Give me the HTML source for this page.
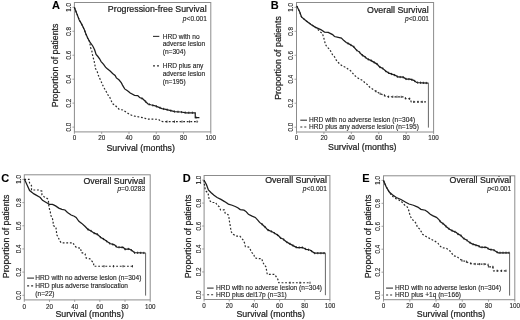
<!DOCTYPE html>
<html><head><meta charset="utf-8"><style>
html,body{margin:0;padding:0;background:#fff;width:520px;height:320px;overflow:hidden}
svg{display:block}
text{font-family:"Liberation Sans", sans-serif;fill:#1a1a1a}
.tk{font-size:6.3px;fill:#222;stroke:#222;stroke-width:0.1px}
.ax{font-size:8.8px;stroke:#222;stroke-width:0.22px}
.sm{font-size:6.6px;fill:#222;stroke:#222;stroke-width:0.12px}
.lt{font-size:11px;font-weight:bold;fill:#000;stroke:#000;stroke-width:0.1px}
</style></head><body>
<svg width="520" height="320" viewBox="0 0 520 320">
<defs><filter id="bl" x="0" y="0" width="520" height="320" filterUnits="userSpaceOnUse"><feGaussianBlur stdDeviation="0.5"/></filter></defs>
<rect width="520" height="320" fill="#fff"/>
<g filter="url(#bl)">
<g><rect x="74.4" y="2.5" width="136.4" height="129.4" fill="none" stroke="#8c8c8c" stroke-width="1"/>
<line x1="74.4" y1="131.9" x2="74.4" y2="133.9" stroke="#8c8c8c" stroke-width="0.8"/>
<text x="74.4" y="139.8" class="tk" text-anchor="middle">0</text>
<line x1="101.68" y1="131.9" x2="101.68" y2="133.9" stroke="#8c8c8c" stroke-width="0.8"/>
<text x="101.68" y="139.8" class="tk" text-anchor="middle">20</text>
<line x1="128.96" y1="131.9" x2="128.96" y2="133.9" stroke="#8c8c8c" stroke-width="0.8"/>
<text x="128.96" y="139.8" class="tk" text-anchor="middle">40</text>
<line x1="156.24" y1="131.9" x2="156.24" y2="133.9" stroke="#8c8c8c" stroke-width="0.8"/>
<text x="156.24" y="139.8" class="tk" text-anchor="middle">60</text>
<line x1="183.52" y1="131.9" x2="183.52" y2="133.9" stroke="#8c8c8c" stroke-width="0.8"/>
<text x="183.52" y="139.8" class="tk" text-anchor="middle">80</text>
<line x1="210.8" y1="131.9" x2="210.8" y2="133.9" stroke="#8c8c8c" stroke-width="0.8"/>
<text x="210.8" y="139.8" class="tk" text-anchor="middle">100</text>
<line x1="72.4" y1="127.11" x2="74.4" y2="127.11" stroke="#8c8c8c" stroke-width="0.8"/>
<text transform="translate(70.8,127.11) rotate(-90)" class="tk" text-anchor="middle">0.0</text>
<line x1="72.4" y1="103.14" x2="74.4" y2="103.14" stroke="#8c8c8c" stroke-width="0.8"/>
<text transform="translate(70.8,103.14) rotate(-90)" class="tk" text-anchor="middle">0.2</text>
<line x1="72.4" y1="79.18" x2="74.4" y2="79.18" stroke="#8c8c8c" stroke-width="0.8"/>
<text transform="translate(70.8,79.18) rotate(-90)" class="tk" text-anchor="middle">0.4</text>
<line x1="72.4" y1="55.22" x2="74.4" y2="55.22" stroke="#8c8c8c" stroke-width="0.8"/>
<text transform="translate(70.8,55.22) rotate(-90)" class="tk" text-anchor="middle">0.6</text>
<line x1="72.4" y1="31.26" x2="74.4" y2="31.26" stroke="#8c8c8c" stroke-width="0.8"/>
<text transform="translate(70.8,31.26) rotate(-90)" class="tk" text-anchor="middle">0.8</text>
<line x1="72.4" y1="7.29" x2="74.4" y2="7.29" stroke="#8c8c8c" stroke-width="0.8"/>
<text transform="translate(70.8,7.29) rotate(-90)" class="tk" text-anchor="middle">1.0</text>
<text transform="translate(58.3,65.4) rotate(-90)" class="ax" text-anchor="middle">Proportion of patients</text>
<text x="106.5" y="150.5" class="ax">Survival (months)</text>
<text x="206.6" y="11.9" class="ax" text-anchor="end">Progression-free Survival</text>
<text x="206.9" y="21.2" class="sm" text-anchor="end"><tspan font-style="italic">p</tspan>&lt;0.001</text>
<text x="52" y="8.9" class="lt">A</text>
<line x1="153" y1="36.4" x2="159.3" y2="36.4" stroke="#333" stroke-width="1.1"/>
<text x="162.7" y="38.6" class="sm">HRD with no</text>
<text x="162.7" y="46.4" class="sm">adverse lesion</text>
<text x="162.7" y="54.2" class="sm">(n=304)</text>
<line x1="153" y1="65.9" x2="159.3" y2="65.9" stroke="#333" stroke-width="1.1" stroke-dasharray="2,2"/>
<text x="162.7" y="68.1" class="sm">HRD plus any</text>
<text x="162.7" y="75.9" class="sm">adverse lesion</text>
<text x="162.7" y="83.7" class="sm">(n=195)</text>
<polyline points="74.4,7.4 79.25,20 81.1,23.1 82.7,26.25 84.25,29.4 85.8,33.75 87.7,38.1 89.6,41.6 89.9,43.5 90.6,47.6 91.8,50.7 92.4,54.4 93.3,58.1 94.25,61.6 94.9,65 95.5,68.6 97.3,71.9 98.25,75 99.5,77.9 100.75,80.7 102.2,83.9 103.4,86.7 105,89.5 106.6,92.3 108.1,95.1 109.9,97.6 111.1,100.4 112.4,103.6 114.9,105.1 117.1,107.3 119.25,109.5 122.8,110 125.3,111.6 127.5,113.1 130.3,114.7 133.4,115.9 136.9,116.6 140.3,117.2 143.75,117.8 147.2,119.1 158.5,119.3 160.9,121.3 163,121.6 198.1,121.6" fill="none" stroke="#2a2a2a" stroke-width="1.2" stroke-dasharray="1.8,1.8"/>
<polyline points="74.4,7.4 79.25,20 81.1,23.1 82.7,26.25 84.25,29.4 85.8,33.75 87.7,38.1 89.6,41.6 92.75,46 94.6,49.75 96.1,54.4 97.7,56.25 99.6,58.75 101.1,61.6 103.6,64.4 105.5,67.2 107,68.5 110.1,71 112.6,73.5 115.1,75.4 116.4,77.9 118.9,79.75 121.4,82.9 122.5,85.1 124.7,88.9 127.5,90.75 130.25,93.1 134.6,95.3 137.75,95.6 139.6,97.5 142.75,98.75 145.25,101.25 148,104 151.5,105 155.25,105.9 162,108.6 165.8,109.4 174.8,111.65 180.8,112 186.25,112.75 195.25,112.75 195.25,117.5 199.4,117.5" fill="none" stroke="#1c1c1c" stroke-width="1.25"/>
<path d="M142 97.35v2.2M145.6 100.5v2.2M149.2 103.24v2.2M152.8 104.21v2.2M156.4 105.26v2.2M160 106.7v2.2M163.6 107.84v2.2M167.2 108.65v2.2M170.8 109.55v2.2M174.4 110.45v2.2M178 110.74v2.2M181.6 111.01v2.2M185.2 111.51v2.2M188.8 111.65v2.2M192.4 111.65v2.2M196 116.4v2.2" stroke="#222" stroke-width="0.9" fill="none"/>
<path d="M167 120.5v2.2M174.5 120.5v2.2M182 120.5v2.2M189.5 120.5v2.2M197 120.5v2.2" stroke="#222" stroke-width="0.9" fill="none"/></g>
<g><rect x="296.5" y="2.5" width="137.1" height="129.5" fill="none" stroke="#8c8c8c" stroke-width="1"/>
<line x1="296.5" y1="132" x2="296.5" y2="134" stroke="#8c8c8c" stroke-width="0.8"/>
<text x="296.5" y="139.9" class="tk" text-anchor="middle">0</text>
<line x1="323.92" y1="132" x2="323.92" y2="134" stroke="#8c8c8c" stroke-width="0.8"/>
<text x="323.92" y="139.9" class="tk" text-anchor="middle">20</text>
<line x1="351.34" y1="132" x2="351.34" y2="134" stroke="#8c8c8c" stroke-width="0.8"/>
<text x="351.34" y="139.9" class="tk" text-anchor="middle">40</text>
<line x1="378.76" y1="132" x2="378.76" y2="134" stroke="#8c8c8c" stroke-width="0.8"/>
<text x="378.76" y="139.9" class="tk" text-anchor="middle">60</text>
<line x1="406.18" y1="132" x2="406.18" y2="134" stroke="#8c8c8c" stroke-width="0.8"/>
<text x="406.18" y="139.9" class="tk" text-anchor="middle">80</text>
<line x1="433.6" y1="132" x2="433.6" y2="134" stroke="#8c8c8c" stroke-width="0.8"/>
<text x="433.6" y="139.9" class="tk" text-anchor="middle">100</text>
<line x1="294.5" y1="127.2" x2="296.5" y2="127.2" stroke="#8c8c8c" stroke-width="0.8"/>
<text transform="translate(292.9,127.2) rotate(-90)" class="tk" text-anchor="middle">0.0</text>
<line x1="294.5" y1="103.22" x2="296.5" y2="103.22" stroke="#8c8c8c" stroke-width="0.8"/>
<text transform="translate(292.9,103.22) rotate(-90)" class="tk" text-anchor="middle">0.2</text>
<line x1="294.5" y1="79.24" x2="296.5" y2="79.24" stroke="#8c8c8c" stroke-width="0.8"/>
<text transform="translate(292.9,79.24) rotate(-90)" class="tk" text-anchor="middle">0.4</text>
<line x1="294.5" y1="55.26" x2="296.5" y2="55.26" stroke="#8c8c8c" stroke-width="0.8"/>
<text transform="translate(292.9,55.26) rotate(-90)" class="tk" text-anchor="middle">0.6</text>
<line x1="294.5" y1="31.28" x2="296.5" y2="31.28" stroke="#8c8c8c" stroke-width="0.8"/>
<text transform="translate(292.9,31.28) rotate(-90)" class="tk" text-anchor="middle">0.8</text>
<line x1="294.5" y1="7.3" x2="296.5" y2="7.3" stroke="#8c8c8c" stroke-width="0.8"/>
<text transform="translate(292.9,7.3) rotate(-90)" class="tk" text-anchor="middle">1.0</text>
<text transform="translate(281.3,58) rotate(-90)" class="ax" text-anchor="middle">Proportion of patients</text>
<text x="328.1" y="149.6" class="ax">Survival (months)</text>
<text x="428.7" y="12.6" class="ax" text-anchor="end">Overall Survival</text>
<text x="429" y="21.1" class="sm" text-anchor="end"><tspan font-style="italic">p</tspan>&lt;0.001</text>
<text x="270.8" y="8.9" class="lt">B</text>
<line x1="300.3" y1="120.2" x2="307" y2="120.2" stroke="#333" stroke-width="1.1"/>
<text x="309.1" y="122.4" class="sm">HRD with no adverse lesion (n=304)</text>
<line x1="300.3" y1="127" x2="307" y2="127" stroke="#333" stroke-width="1.1" stroke-dasharray="2,2"/>
<text x="309.1" y="129.2" class="sm">HRD plus any adverse lesion (n=195)</text>
<polyline points="296.6,6.2 297,6.4 299.75,12 301.5,17 306,20.75 311,24.5 315.1,27.1 317,28.7 319.8,31.5 322.3,33.4 323.6,37.1 324.5,40.6 325.3,44.1 326.9,46.9 329.4,49.1 330.9,51.6 332.5,54.7 334.5,56.8 336.1,59.9 337.9,62.1 340.1,64.3 342.9,66.2 345.75,67.4 348.25,69.3 350.75,70.9 352.8,73.3 355,75.8 357.5,77.7 360,79.25 362.8,80.5 365,83 367.5,84.6 369.75,87.3 372.9,89.2 376.6,91.7 380.4,93.9 384.1,95.1 386,96.7 403.75,96.9 405.6,98.5 410,98.75 411.25,101.9 426.9,101.9" fill="none" stroke="#2a2a2a" stroke-width="1.2" stroke-dasharray="1.8,1.8"/>
<polyline points="296.6,6.2 297,6.4 299.75,12 301.5,17 306,20.75 311,24.5 315.1,27.1 320.75,29.6 324.5,32.1 328.25,32.4 332.6,34.6 334.5,36.5 338.25,37.4 341.4,38.1 343.9,40.6 346.25,42.5 349.4,44.1 351.25,45.25 353.75,46.8 356.25,49.9 359.4,52.1 361.9,54.9 364.4,56.5 367.5,59 371.25,60.6 373.75,62.1 377.1,64.1 379.6,66.9 382.75,68.4 385.9,71.25 389,73.1 393.4,74.7 395.9,75.6 397.75,76.9 403.1,77.2 406.25,79.1 410,79.1 413.75,80.3 416.6,82.5 421.9,82.8 428.4,83.1" fill="none" stroke="#1c1c1c" stroke-width="1.25"/>
<line x1="428.4" y1="83.1" x2="428.4" y2="127.6" stroke="#666" stroke-width="1"/>
<path d="M348 42.29v2.2M350.9 43.93v2.2M353.8 45.76v2.2M356.7 49.11v2.2M359.6 51.22v2.2M362.5 54.18v2.2M365.4 56.21v2.2M368.3 58.24v2.2M371.2 59.48v2.2M374.1 61.21v2.2M377 62.94v2.2M379.9 65.94v2.2M382.8 67.35v2.2M385.7 69.97v2.2M388.6 71.76v2.2M391.5 72.91v2.2M394.4 73.96v2.2M397.3 75.48v2.2M400.2 75.94v2.2M403.1 76.1v2.2M406 77.85v2.2M408.9 78v2.2M411.8 78.58v2.2M414.7 79.93v2.2M417.6 81.46v2.2M420.5 81.62v2.2M423.4 81.77v2.2M426.3 81.9v2.2" stroke="#222" stroke-width="0.9" fill="none"/>
<path d="M376 90.19v2.2M380.2 92.68v2.2M384.4 94.25v2.2M388.6 95.63v2.2M392.8 95.68v2.2M397 95.72v2.2M401.2 95.77v2.2M405.4 97.23v2.2M409.6 97.63v2.2M413.8 100.8v2.2M418 100.8v2.2M422.2 100.8v2.2" stroke="#222" stroke-width="0.9" fill="none"/></g>
<g><rect x="24.3" y="174.8" width="125.9" height="125.1" fill="none" stroke="#8c8c8c" stroke-width="1"/>
<line x1="24.3" y1="299.9" x2="24.3" y2="301.9" stroke="#8c8c8c" stroke-width="0.8"/>
<text x="24.3" y="308.5" class="tk" text-anchor="middle">0</text>
<line x1="49.48" y1="299.9" x2="49.48" y2="301.9" stroke="#8c8c8c" stroke-width="0.8"/>
<text x="49.48" y="308.5" class="tk" text-anchor="middle">20</text>
<line x1="74.66" y1="299.9" x2="74.66" y2="301.9" stroke="#8c8c8c" stroke-width="0.8"/>
<text x="74.66" y="308.5" class="tk" text-anchor="middle">40</text>
<line x1="99.84" y1="299.9" x2="99.84" y2="301.9" stroke="#8c8c8c" stroke-width="0.8"/>
<text x="99.84" y="308.5" class="tk" text-anchor="middle">60</text>
<line x1="125.02" y1="299.9" x2="125.02" y2="301.9" stroke="#8c8c8c" stroke-width="0.8"/>
<text x="125.02" y="308.5" class="tk" text-anchor="middle">80</text>
<line x1="150.2" y1="299.9" x2="150.2" y2="301.9" stroke="#8c8c8c" stroke-width="0.8"/>
<text x="150.2" y="308.5" class="tk" text-anchor="middle">100</text>
<line x1="22.3" y1="295.27" x2="24.3" y2="295.27" stroke="#8c8c8c" stroke-width="0.8"/>
<text transform="translate(20.7,295.27) rotate(-90)" class="tk" text-anchor="middle">0.0</text>
<line x1="22.3" y1="272.1" x2="24.3" y2="272.1" stroke="#8c8c8c" stroke-width="0.8"/>
<text transform="translate(20.7,272.1) rotate(-90)" class="tk" text-anchor="middle">0.2</text>
<line x1="22.3" y1="248.93" x2="24.3" y2="248.93" stroke="#8c8c8c" stroke-width="0.8"/>
<text transform="translate(20.7,248.93) rotate(-90)" class="tk" text-anchor="middle">0.4</text>
<line x1="22.3" y1="225.77" x2="24.3" y2="225.77" stroke="#8c8c8c" stroke-width="0.8"/>
<text transform="translate(20.7,225.77) rotate(-90)" class="tk" text-anchor="middle">0.6</text>
<line x1="22.3" y1="202.6" x2="24.3" y2="202.6" stroke="#8c8c8c" stroke-width="0.8"/>
<text transform="translate(20.7,202.6) rotate(-90)" class="tk" text-anchor="middle">0.8</text>
<line x1="22.3" y1="179.43" x2="24.3" y2="179.43" stroke="#8c8c8c" stroke-width="0.8"/>
<text transform="translate(20.7,179.43) rotate(-90)" class="tk" text-anchor="middle">1.0</text>
<text transform="translate(9.3,236.4) rotate(-90)" class="ax" text-anchor="middle">Proportion of patients</text>
<text x="55.4" y="316.5" class="ax">Survival (months)</text>
<text x="145.1" y="183.6" class="ax" text-anchor="end">Overall Survival</text>
<text x="145.1" y="191.3" class="sm" text-anchor="end"><tspan font-style="italic">p</tspan>=0.0283</text>
<text x="1.2" y="182.4" class="lt">C</text>
<line x1="27.1" y1="278.1" x2="34" y2="278.1" stroke="#333" stroke-width="1.1"/>
<text x="35.3" y="280.3" class="sm">HRD with no adverse lesion (n=304)</text>
<line x1="27.1" y1="285.9" x2="34" y2="285.9" stroke="#333" stroke-width="1.1" stroke-dasharray="2,2"/>
<text x="35.3" y="288.1" class="sm">HRD plus adverse translocation</text>
<text x="35.3" y="295.7" class="sm">(n=22)</text>
<polyline points="24.3,179.3 29,179.3 29.6,183.1 31.5,185.6 31.5,190 38.8,190 41.9,191.25 41.9,195 44.4,196.9 47.5,198.75 48.4,200.6 48.75,205 49.4,208.75 50.3,211.9 50.9,215.6 52.4,218.4 53.1,221.8 53.4,225.6 55.9,227.1 56.4,231.1 56.75,234.9 58.3,237.4 59.6,240.5 61.1,242.8 73,242.8 74.6,245.8 76.75,247.7 80.6,248.1 81.25,252.5 85,253.75 86.25,258.1 89.9,258.75 93.6,263.1 93.75,266.25 133,266.25" fill="none" stroke="#2a2a2a" stroke-width="1.2" stroke-dasharray="1.8,1.8"/>
<polyline points="24.3,179.3 24.6,179.4 27.1,185 29.6,190.6 34,193.9 40.25,197.5 42.5,200.3 46.25,202.5 49.4,204.4 52.5,204.4 55.6,205.9 58.75,208.1 61.9,209.4 65,210 67.5,212.5 71.1,215 74.25,216.25 76.1,217.5 78.9,221.25 81.75,223.4 84.9,226.25 88,229.4 91.1,231 94.25,233.2 97.4,234.4 100.5,237.25 103.6,239.1 106.75,241.3 109.9,243.5 114.5,244.9 117,247.1 123.25,247.4 125.1,249.25 128.9,248.9 132,250.5 134.5,252.7 145.6,253" fill="none" stroke="#1c1c1c" stroke-width="1.25"/>
<line x1="145.6" y1="253" x2="145.6" y2="295.6" stroke="#666" stroke-width="1"/>
<path d="M88 228.3v2.2M91.1 229.9v2.2M94.2 232.07v2.2M97.3 233.26v2.2M100.4 236.06v2.2M103.5 237.94v2.2M106.6 240.1v2.2M109.7 242.26v2.2M112.8 243.28v2.2M115.9 245.03v2.2M119 246.1v2.2M122.1 246.24v2.2M125.2 248.14v2.2M128.3 247.86v2.2M131.4 249.09v2.2M134.5 251.6v2.2M137.6 251.68v2.2M140.7 251.77v2.2M143.8 251.85v2.2" stroke="#222" stroke-width="0.9" fill="none"/>
<path d="M104 265.15v2.2M113.5 265.15v2.2M123 265.15v2.2M132.5 265.15v2.2" stroke="#222" stroke-width="0.9" fill="none"/></g>
<g><rect x="204.1" y="175.5" width="125.8" height="124" fill="none" stroke="#8c8c8c" stroke-width="1"/>
<line x1="204.1" y1="299.5" x2="204.1" y2="301.5" stroke="#8c8c8c" stroke-width="0.8"/>
<text x="204.1" y="308.1" class="tk" text-anchor="middle">0</text>
<line x1="229.26" y1="299.5" x2="229.26" y2="301.5" stroke="#8c8c8c" stroke-width="0.8"/>
<text x="229.26" y="308.1" class="tk" text-anchor="middle">20</text>
<line x1="254.42" y1="299.5" x2="254.42" y2="301.5" stroke="#8c8c8c" stroke-width="0.8"/>
<text x="254.42" y="308.1" class="tk" text-anchor="middle">40</text>
<line x1="279.58" y1="299.5" x2="279.58" y2="301.5" stroke="#8c8c8c" stroke-width="0.8"/>
<text x="279.58" y="308.1" class="tk" text-anchor="middle">60</text>
<line x1="304.74" y1="299.5" x2="304.74" y2="301.5" stroke="#8c8c8c" stroke-width="0.8"/>
<text x="304.74" y="308.1" class="tk" text-anchor="middle">80</text>
<line x1="329.9" y1="299.5" x2="329.9" y2="301.5" stroke="#8c8c8c" stroke-width="0.8"/>
<text x="329.9" y="308.1" class="tk" text-anchor="middle">100</text>
<line x1="202.1" y1="294.91" x2="204.1" y2="294.91" stroke="#8c8c8c" stroke-width="0.8"/>
<text transform="translate(200.5,294.91) rotate(-90)" class="tk" text-anchor="middle">0.0</text>
<line x1="202.1" y1="271.94" x2="204.1" y2="271.94" stroke="#8c8c8c" stroke-width="0.8"/>
<text transform="translate(200.5,271.94) rotate(-90)" class="tk" text-anchor="middle">0.2</text>
<line x1="202.1" y1="248.98" x2="204.1" y2="248.98" stroke="#8c8c8c" stroke-width="0.8"/>
<text transform="translate(200.5,248.98) rotate(-90)" class="tk" text-anchor="middle">0.4</text>
<line x1="202.1" y1="226.02" x2="204.1" y2="226.02" stroke="#8c8c8c" stroke-width="0.8"/>
<text transform="translate(200.5,226.02) rotate(-90)" class="tk" text-anchor="middle">0.6</text>
<line x1="202.1" y1="203.06" x2="204.1" y2="203.06" stroke="#8c8c8c" stroke-width="0.8"/>
<text transform="translate(200.5,203.06) rotate(-90)" class="tk" text-anchor="middle">0.8</text>
<line x1="202.1" y1="180.09" x2="204.1" y2="180.09" stroke="#8c8c8c" stroke-width="0.8"/>
<text transform="translate(200.5,180.09) rotate(-90)" class="tk" text-anchor="middle">1.0</text>
<text transform="translate(191.3,236.5) rotate(-90)" class="ax" text-anchor="middle">Proportion of patients</text>
<text x="236.5" y="316.5" class="ax">Survival (months)</text>
<text x="326.9" y="183.3" class="ax" text-anchor="end">Overall Survival</text>
<text x="326.9" y="191" class="sm" text-anchor="end"><tspan font-style="italic">p</tspan>&lt;0.001</text>
<text x="182.8" y="182.1" class="lt">D</text>
<line x1="207.1" y1="288.1" x2="213.6" y2="288.1" stroke="#333" stroke-width="1.1"/>
<text x="215.9" y="290.3" class="sm">HRD with no adverse lesion (n=304)</text>
<line x1="207.1" y1="294.7" x2="213.6" y2="294.7" stroke="#333" stroke-width="1.1" stroke-dasharray="2,2"/>
<text x="215.9" y="296.9" class="sm">HRD plus del17p (n=31)</text>
<polyline points="204.1,180.3 204.3,183.5 205,188.2 206.2,191.3 208.1,193.1 208.7,197.2 209.6,200.6 211.8,202.5 215.6,202.5 217.1,205 219.3,206.9 220.6,209.9 224.3,209.9 225.25,213.4 228.1,214.6 229,217.75 229.5,221.75 230.1,225.2 230.75,228.9 231.4,232.1 233.25,234.25 235.75,236.1 239.8,236.1 241.6,238.25 243.5,240.4 244.75,243.6 245.4,246.7 248.8,247.1 250.4,249.8 251.9,252.6 253.8,254.4 254.75,257.9 258.2,258.5 261.9,258.8 262.6,261.9 264.4,265 266,266.9 266.6,270.6 267.25,274.4 274.75,274.4 276.3,276.9 277.9,279.4 278.75,282.75 310,282.75" fill="none" stroke="#2a2a2a" stroke-width="1.2" stroke-dasharray="1.8,1.8"/>
<polyline points="204.1,180.3 206.5,184.75 208.4,190 210.9,192.5 214,195.3 217.1,197.5 220.9,199.4 224.6,201.6 228.4,204.1 232.1,205.25 235.25,206.5 237.75,207.75 240.25,209.6 244,210.2 245.9,211.4 248.4,214.25 252.1,216.1 255.25,217.4 257.75,220.2 259.6,222.4 262.1,224.25 265.25,227.2 267.75,229.9 272.1,231.8 275.9,234 278.4,235.6 280.25,237.75 283.4,239.3 285.9,241.5 289,243.4 293.1,245.6 296.9,247.5 302.5,247.5 306.25,249.4 310,250 314.4,253.1 325.4,253.1" fill="none" stroke="#1c1c1c" stroke-width="1.25"/>
<line x1="325.4" y1="253.1" x2="325.4" y2="295.2" stroke="#666" stroke-width="1"/>
<path d="M262 223.08v2.2M265.1 225.96v2.2M268.2 229v2.2M271.3 230.35v2.2M274.4 232.03v2.2M277.5 233.92v2.2M280.6 236.82v2.2M283.7 238.46v2.2M286.8 240.95v2.2M289.9 242.78v2.2M293 244.45v2.2M296.1 246v2.2M299.2 246.4v2.2M302.3 246.4v2.2M305.4 247.87v2.2M308.5 248.66v2.2M311.6 250.03v2.2M314.7 252v2.2M317.8 252v2.2M320.9 252v2.2M324 252v2.2" stroke="#222" stroke-width="0.9" fill="none"/>
<path d="M290 281.65v2.2M300 281.65v2.2M310 281.65v2.2" stroke="#222" stroke-width="0.9" fill="none"/></g>
<g><rect x="383.5" y="175.8" width="131.3" height="123.9" fill="none" stroke="#8c8c8c" stroke-width="1"/>
<line x1="383.5" y1="299.7" x2="383.5" y2="301.7" stroke="#8c8c8c" stroke-width="0.8"/>
<text x="383.5" y="308.3" class="tk" text-anchor="middle">0</text>
<line x1="409.76" y1="299.7" x2="409.76" y2="301.7" stroke="#8c8c8c" stroke-width="0.8"/>
<text x="409.76" y="308.3" class="tk" text-anchor="middle">20</text>
<line x1="436.02" y1="299.7" x2="436.02" y2="301.7" stroke="#8c8c8c" stroke-width="0.8"/>
<text x="436.02" y="308.3" class="tk" text-anchor="middle">40</text>
<line x1="462.28" y1="299.7" x2="462.28" y2="301.7" stroke="#8c8c8c" stroke-width="0.8"/>
<text x="462.28" y="308.3" class="tk" text-anchor="middle">60</text>
<line x1="488.54" y1="299.7" x2="488.54" y2="301.7" stroke="#8c8c8c" stroke-width="0.8"/>
<text x="488.54" y="308.3" class="tk" text-anchor="middle">80</text>
<line x1="514.8" y1="299.7" x2="514.8" y2="301.7" stroke="#8c8c8c" stroke-width="0.8"/>
<text x="514.8" y="308.3" class="tk" text-anchor="middle">100</text>
<line x1="381.5" y1="295.11" x2="383.5" y2="295.11" stroke="#8c8c8c" stroke-width="0.8"/>
<text transform="translate(379.9,295.11) rotate(-90)" class="tk" text-anchor="middle">0.0</text>
<line x1="381.5" y1="272.17" x2="383.5" y2="272.17" stroke="#8c8c8c" stroke-width="0.8"/>
<text transform="translate(379.9,272.17) rotate(-90)" class="tk" text-anchor="middle">0.2</text>
<line x1="381.5" y1="249.22" x2="383.5" y2="249.22" stroke="#8c8c8c" stroke-width="0.8"/>
<text transform="translate(379.9,249.22) rotate(-90)" class="tk" text-anchor="middle">0.4</text>
<line x1="381.5" y1="226.28" x2="383.5" y2="226.28" stroke="#8c8c8c" stroke-width="0.8"/>
<text transform="translate(379.9,226.28) rotate(-90)" class="tk" text-anchor="middle">0.6</text>
<line x1="381.5" y1="203.33" x2="383.5" y2="203.33" stroke="#8c8c8c" stroke-width="0.8"/>
<text transform="translate(379.9,203.33) rotate(-90)" class="tk" text-anchor="middle">0.8</text>
<line x1="381.5" y1="180.39" x2="383.5" y2="180.39" stroke="#8c8c8c" stroke-width="0.8"/>
<text transform="translate(379.9,180.39) rotate(-90)" class="tk" text-anchor="middle">1.0</text>
<text transform="translate(371.3,236.5) rotate(-90)" class="ax" text-anchor="middle">Proportion of patients</text>
<text x="416.8" y="316.5" class="ax">Survival (months)</text>
<text x="511.2" y="182.9" class="ax" text-anchor="end">Overall Survival</text>
<text x="511.2" y="190.8" class="sm" text-anchor="end"><tspan font-style="italic">p</tspan>&lt;0.001</text>
<text x="362.2" y="182.2" class="lt">E</text>
<line x1="386.1" y1="288.1" x2="393" y2="288.1" stroke="#333" stroke-width="1.1"/>
<text x="395.1" y="290.3" class="sm">HRD with no adverse lesion (n=304)</text>
<line x1="386.1" y1="295" x2="393" y2="295" stroke="#333" stroke-width="1.1" stroke-dasharray="2,2"/>
<text x="395.1" y="297.2" class="sm">HRD plus +1q (n=166)</text>
<polyline points="383.5,180.4 386.1,186.6 389.25,192 390.8,194.4 392.8,196.5 395.9,198.6 398.6,199.8 401.75,201.8 402.9,203.5 404.9,205.25 407.4,207.1 408.7,210.25 409.6,213.7 410.6,216.8 412.1,219.3 414.5,221.4 416.4,223.9 417.3,227.1 419.5,228.9 421.1,231.4 422.6,234.25 425.1,235.8 427.5,237.4 430.25,238.75 433.1,240.3 435.6,241.6 438.1,243.4 439.9,245.9 442.1,247.8 446.2,248.1 448.4,249.9 450.6,251.5 452.75,254.6 454.3,255.9 457.1,256.8 459.9,259 462.4,260.9 465.6,261.2 468.1,262.75 471.5,263.6 476,264.1 487.9,264.1 488.5,266.9 492.9,266.9 493.5,270.8 507.5,270.8" fill="none" stroke="#2a2a2a" stroke-width="1.2" stroke-dasharray="1.8,1.8"/>
<polyline points="383.5,180.4 386.1,186.6 389.25,192 392.4,194.8 396.3,197.5 401,199.5 405.7,202.2 409,204 413.4,205.25 417.75,207.1 420.9,209.3 425.25,210.25 427.75,212.1 430.25,214.3 432.6,215.6 436.4,217.4 438.9,219.6 440.75,222.1 443.9,224.3 446.4,226.8 449.5,229.3 452.6,230.9 456.4,232.5 457.75,233.9 460.9,235.5 463.4,238.3 466.5,239.9 469,242.1 472.1,243.9 475.9,245.2 478.4,245.8 480.25,247.1 486.25,247.3 489.4,249.4 493.75,250 498.1,252.75 509.6,252.75" fill="none" stroke="#1c1c1c" stroke-width="1.25"/>
<line x1="509.6" y1="252.75" x2="509.6" y2="295.6" stroke="#666" stroke-width="1"/>
<path d="M440 219.99v2.2M443 222.57v2.2M446 225.3v2.2M449 227.8v2.2M452 229.49v2.2M455 230.81v2.2M458 232.93v2.2M461 234.51v2.2M464 237.51v2.2M467 239.24v2.2M470 241.58v2.2M473 243.11v2.2M476 244.12v2.2M479 245.12v2.2M482 246.06v2.2M485 246.16v2.2M488 247.37v2.2M491 248.52v2.2M494 249.06v2.2M497 250.95v2.2M500 251.65v2.2M503 251.65v2.2M506 251.65v2.2M509 251.65v2.2" stroke="#222" stroke-width="0.9" fill="none"/>
<path d="M462 259.5v2.2M466.4 260.6v2.2M470.8 262.32v2.2M475.2 262.91v2.2M479.6 263v2.2M484 263v2.2M488.4 265.33v2.2M492.8 265.8v2.2M497.2 269.7v2.2M501.6 269.7v2.2M506 269.7v2.2" stroke="#222" stroke-width="0.9" fill="none"/></g>
</g>
</svg></body></html>
